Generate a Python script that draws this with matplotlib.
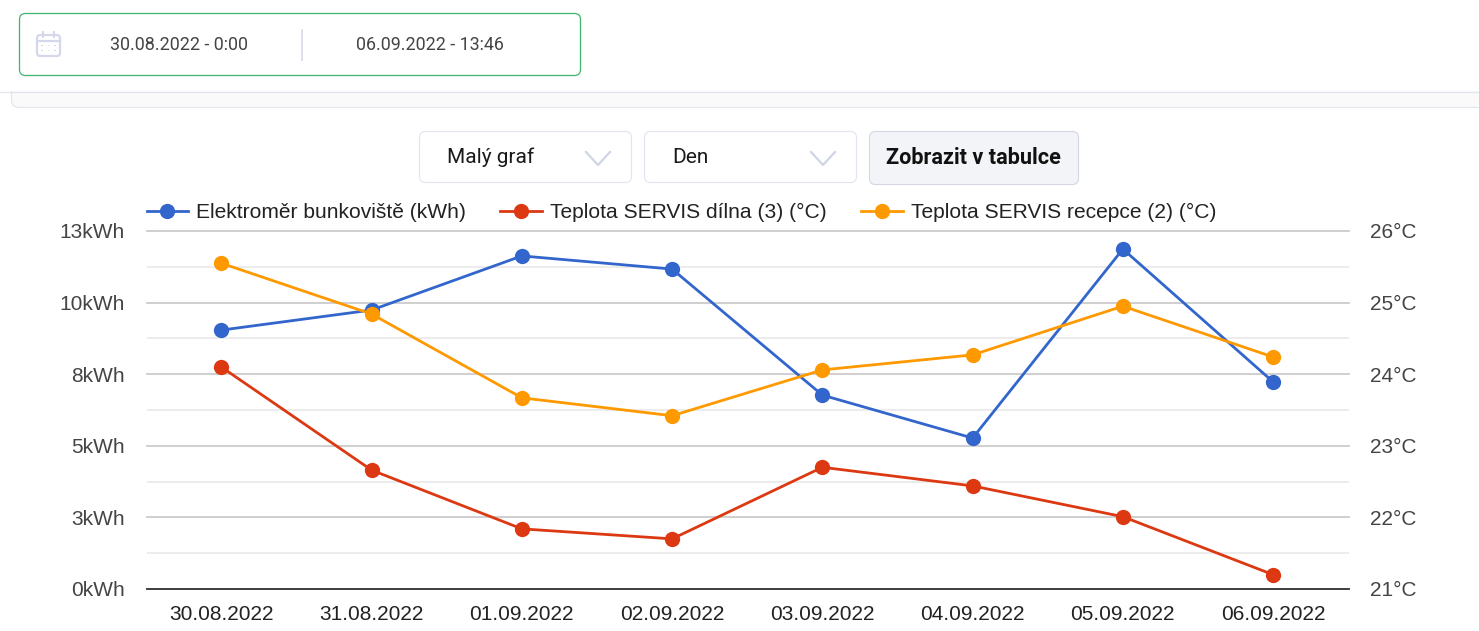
import matplotlib
matplotlib.use("Agg")
import matplotlib.pyplot as plt
from matplotlib.patches import FancyBboxPatch, Rectangle

W, H = 1479, 631

dates = ["30.08.2022", "31.08.2022", "01.09.2022", "02.09.2022",
         "03.09.2022", "04.09.2022", "05.09.2022", "06.09.2022"]
energy = [9.04, 9.74, 11.63, 11.17, 6.77, 5.27, 11.87, 7.23]
temp_dilna = [24.10, 22.66, 21.84, 21.70, 22.70, 22.44, 22.01, 21.20]
temp_recepce = [25.55, 24.84, 23.67, 23.42, 24.06, 24.27, 24.95, 24.24]

left_ticks = [0, 2.5, 5, 7.5, 10, 12.5]
left_labels = ["0kWh", "3kWh", "5kWh", "8kWh", "10kWh", "13kWh"]
left_minor = [1.25, 3.75, 6.25, 8.75, 11.25]
right_ticks = [21, 22, 23, 24, 25, 26]
right_labels = ["21°C", "22°C", "23°C", "24°C", "25°C", "26°C"]

BLUE = "#3366cc"
RED = "#dc3912"
ORANGE = "#ff9900"
LABEL = "#444444"
UI_LINE = "#d9dcea"

plt.rcParams["font.family"] = "Liberation Sans"

fig = plt.figure(figsize=(W / 100, H / 100), dpi=100, facecolor="white")

# page controls, drawn in pixel coordinates
bg = fig.add_axes([0, 0, 1, 1])
bg.set_xlim(0, W)
bg.set_ylim(H, 0)
bg.axis("off")


def box(x0, y0, x1, y1, edge, face="white", r=6, lw=0.8, z=1):
    bg.add_patch(FancyBboxPatch((x0 + r, y0 + r), x1 - x0 - 2 * r, y1 - y0 - 2 * r,
                                boxstyle=f"round,pad={r},rounding_size={r}",
                                fc=face, ec=edge, lw=lw, zorder=z))


# panel strip under the date picker, its top is hidden by the white block
box(11.5, 60, 1600, 107.5, "#e4e4ec", face="#fafafb", r=8)
bg.add_patch(Rectangle((0, 0), W, 91, fc="white", ec="none", zorder=1.5))
bg.plot([0, W], [91.5, 91.5], color="#e4e4ec", lw=0.9, zorder=2)

# date picker
box(19.5, 13.5, 580.5, 75.5, "#3fb56f", lw=0.9, z=3)
bg.plot([302, 302], [30, 60], color=UI_LINE, lw=1.3, zorder=4)
box(37, 35, 60, 56, "#d3d8ea", r=3, lw=1.6, z=4)
bg.plot([37, 60], [40.5, 40.5], color="#d3d8ea", lw=1.6, zorder=4)
bg.plot([43, 43], [32, 37], color="#d3d8ea", lw=1.4, zorder=4)
bg.plot([54, 54], [32, 37], color="#d3d8ea", lw=1.4, zorder=4)
for dot_y in (45.5, 50.5):
    for dot_x in (42, 48.5, 55):
        bg.add_patch(Rectangle((dot_x - 0.9, dot_y - 0.9), 1.8, 1.8, fc="#d3d8ea", ec="none", zorder=4))
bg.text(179.5, 44.5, "30.08.2022 - 0:00", family="Roboto", fontsize=12.9, color="#444444",
        ha="center", va="center", zorder=4)
bg.text(430, 44.5, "06.09.2022 - 13:46", family="Roboto", fontsize=12.9, color="#444444",
        ha="center", va="center", zorder=4)

# dropdowns and button
box(419.5, 131.5, 631.5, 182.5, "#e2e5f0")
box(644.5, 131.5, 856.5, 182.5, "#e2e5f0")
box(869.5, 131.5, 1078.5, 184.5, "#d3d7e6", face="#f3f4f8")
bg.text(447, 157.5, "Malý graf", family="Roboto", fontsize=15, color="#1a1a1a", va="center")
bg.text(672, 157.5, "Den", family="Roboto", fontsize=15, color="#1a1a1a", va="center")
bg.text(973.5, 158.5, "Zobrazit v tabulce", family="Roboto", fontsize=15.6, fontweight="bold",
        color="#111111", ha="center", va="center")
for cx in (598, 823):
    bg.plot([cx - 12, cx, cx + 12], [152, 165, 152], color="#d0d5e6", lw=1.6)

# chart
ax = fig.add_axes([147 / W, 1 - 589 / H, (1349 - 147) / W, (589 - 231) / H])
ax.patch.set_alpha(0)
x = list(range(len(dates)))
line_e, = ax.plot(x, energy, color=BLUE, lw=2.0, marker="o", ms=11, mec="none",
                  label="Elektroměr bunkoviště (kWh)", zorder=3, clip_on=False)
ax.set_xlim(-0.495, 7.505)
ax.set_ylim(0, 12.5)
ax.set_yticks(left_ticks)
ax.set_yticklabels(left_labels)
ax.set_yticks(left_minor, minor=True)
ax.set_xticks(x)
ax.set_xticklabels(dates)
ax.grid(axis="y", which="major", color="#cccccc", lw=1.3, zorder=0)
ax.grid(axis="y", which="minor", color="#ebebeb", lw=1.3, zorder=0)
for gl in ax.yaxis.get_gridlines():
    gl.set_clip_on(False)
ax.tick_params(which="both", length=0)
ax.tick_params(axis="y", labelsize=15, labelcolor=LABEL, pad=16)
ax.tick_params(axis="x", labelsize=15, labelcolor="#222222", pad=11.7)
for s in ("top", "left", "right"):
    ax.spines[s].set_visible(False)
ax.spines["bottom"].set_color("#333333")
ax.spines["bottom"].set_linewidth(1.3)

ax2 = ax.twinx()
ax2.patch.set_alpha(0)
line_d, = ax2.plot(x, temp_dilna, color=RED, lw=2.0, marker="o", ms=11, mec="none",
                   label="Teplota SERVIS dílna (3) (°C)", zorder=3, clip_on=False)
line_r, = ax2.plot(x, temp_recepce, color=ORANGE, lw=2.0, marker="o", ms=11, mec="none",
                   label="Teplota SERVIS recepce (2) (°C)", zorder=3, clip_on=False)
ax2.set_ylim(21, 26)
ax2.set_yticks(right_ticks)
ax2.set_yticklabels(right_labels)
ax2.tick_params(length=0, labelsize=15, labelcolor=LABEL, pad=15)
for s in ("top", "left", "right", "bottom"):
    ax2.spines[s].set_visible(False)

ax2.legend(handles=[line_e, line_d, line_r], loc="lower left", ncol=3,
           bbox_to_anchor=(146.5 / W, 1 - 222 / H), bbox_transform=fig.transFigure,
           frameon=False, fontsize=15.1, labelcolor="#222222", borderpad=0,
           borderaxespad=0, handlelength=2.0, handletextpad=0.38, columnspacing=1.62)

fig.savefig("out.png", dpi=100)
plt.close(fig)
